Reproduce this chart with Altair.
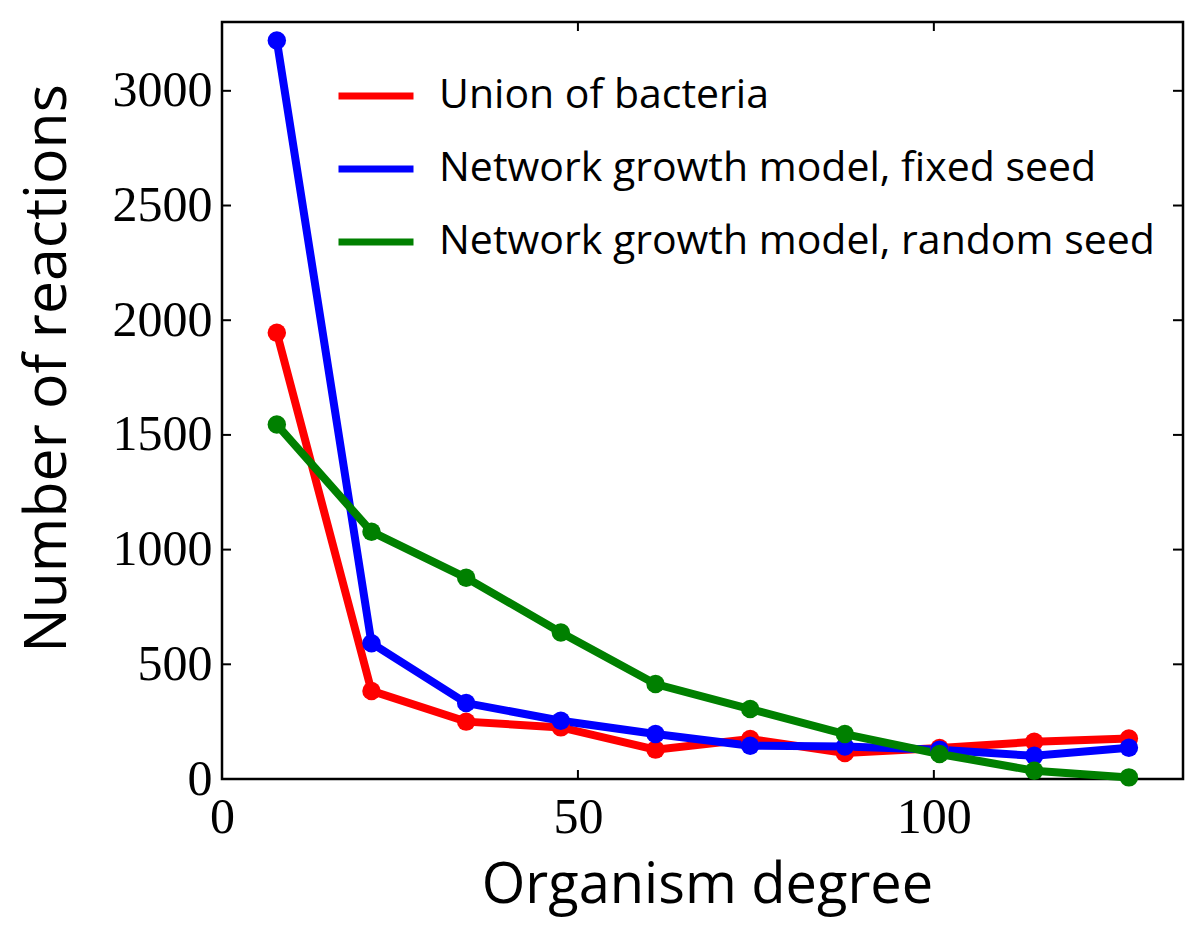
import altair as alt
import pandas as pd

# ---- data ----
degree = [7.7, 21.0, 34.3, 47.6, 60.9, 74.2, 87.5, 100.8, 114.1, 127.4]
union_vals = [1945, 384, 250, 225, 128, 174, 113, 135, 162, 177]
fixed_vals = [3219, 592, 331, 254, 196, 145, 142, 128, 101, 136]
random_vals = [1545, 1078, 877, 639, 414, 305, 196, 109, 36, 7]

series_names = [
    "Union of bacteria",
    "Network growth model, fixed seed",
    "Network growth model, random seed",
]
series_colors = ["#ff0000", "#0000ff", "#008000"]
x_ticks = [0, 50, 100]
y_ticks = [0, 500, 1000, 1500, 2000, 2500, 3000]

rows = []
for name, vals in zip(series_names, [union_vals, fixed_vals, random_vals]):
    for d, v in zip(degree, vals):
        rows.append({"degree": d, "reactions": v, "series": name})
df = pd.DataFrame(rows)

W, H = 961, 757
xs = alt.Scale(domain=[0, 135], nice=False, zero=False)
ys = alt.Scale(domain=[0, 3300], nice=False, zero=False)
cscale = alt.Scale(domain=series_names, range=series_colors)

x_axis = alt.Axis(
    values=x_ticks, ticks=False, domain=False, grid=False, format="d",
    labelFont="Liberation Serif", labelFontSize=50, labelColor="black",
    labelPadding=13, labelFlush=False,
    title="Organism degree", titleFont="Open Sans", titleFontSize=56,
    titleFontWeight="normal", titleColor="black",
    titleX=485, titleY=123, titleBaseline="alphabetic", titleAlign="center",
)
y_axis = alt.Axis(
    values=y_ticks, ticks=False, domain=False, grid=False, format="d",
    labelFont="Liberation Serif", labelFontSize=50, labelColor="black",
    labelPadding=10, labelFlush=False,
    title="Number of reactions", titleFont="Open Sans", titleFontSize=59,
    titleFontWeight="normal", titleColor="black",
    titleX=-157, titleY=346, titleBaseline="alphabetic", titleAlign="center",
    titleAngle=-90,
)

legend = alt.Legend(
    title=None, orient="none", legendX=113, legendY=52,
    symbolType="stroke", symbolSize=5625, symbolStrokeWidth=7,
    labelFont="Open Sans", labelFontSize=41, labelColor="black",
    labelOffset=22, clipHeight=44, rowPadding=29, padding=0, labelLimit=0,
)

X = alt.X("degree:Q", scale=xs, axis=x_axis, title="Organism degree")
Y = alt.Y("reactions:Q", scale=ys, axis=y_axis, title="Number of reactions")

base = alt.Chart(df).encode(x=X, y=Y)

lines = base.mark_line(strokeWidth=8).encode(
    color=alt.Color("series:N", scale=cscale, sort=series_names, legend=legend),
    order=alt.Order("degree:Q"),
)
points = base.mark_circle(size=340, opacity=1).encode(
    color=alt.Color("series:N", scale=cscale, sort=series_names, legend=None),
)

xt = pd.DataFrame({"degree": x_ticks})
yt = pd.DataFrame({"reactions": y_ticks})
tick_style = dict(color="black", strokeWidth=2)
xb = alt.Chart(xt).mark_rule(**tick_style).encode(
    x=X, y=alt.value(H), y2=alt.value(H - 9))
xtop = alt.Chart(xt).mark_rule(**tick_style).encode(
    x=X, y=alt.value(0), y2=alt.value(9))
yl = alt.Chart(yt).mark_rule(**tick_style).encode(
    y=Y, x=alt.value(0), x2=alt.value(9))
yr = alt.Chart(yt).mark_rule(**tick_style).encode(
    y=Y, x=alt.value(W), x2=alt.value(W - 10))

chart = (
    alt.layer(lines, points, xb, xtop, yl, yr)
    .properties(
        width=W, height=H,
        autosize=alt.AutoSizeParams(type="none"),
        padding={"left": 214, "top": 14, "right": 9, "bottom": 150},
        background="white",
    )
    .configure_view(stroke="black", strokeWidth=2.5)
)

chart.save("out.html", embed_options={"renderer": "svg", "actions": False})
